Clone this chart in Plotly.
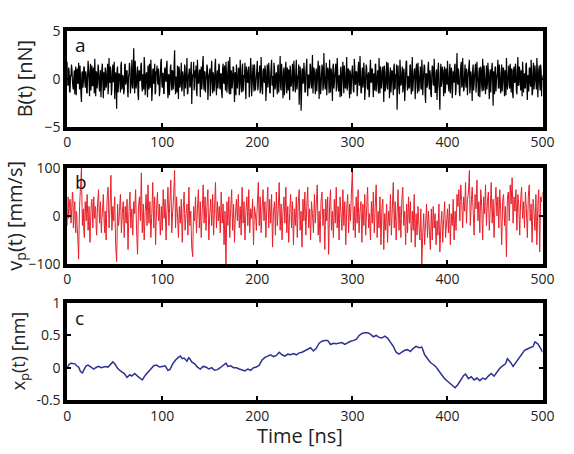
import plotly.graph_objects as go

# ---------------- data ----------------
time_ticks = [0, 100, 200, 300, 400, 500]
time_tick_text = ["0", "100", "200", "300", "400", "500"]

a_ticks = [-5, 0, 5]
a_tick_text = ["\u22125", "0", "5"]
b_ticks = [-100, 0, 100]
b_tick_text = ["\u2212100", "0", "100"]
c_ticks = [-0.5, 0, 0.5, 1]
c_tick_text = ["-0.5", "0", "0.5", "1"]

# B(t) [nN] at whole ns, t = 0..500
B_values = [
    1.8, -0.6, 0.9, -1.4, 0.3, 1.1, -0.8, 0.2, -1.6, 1.3, 0.5, -0.4, 1.7, -1.1, 0.1, -2.4, 0.8, -0.3, 1.2, -0.9,
    0.4, -1.5, 1.9, -0.2, 0.7, -1.2, 1.4, -0.7, 0.2, 2.1, -1.8, 0.6, -0.1, 1.0, -1.3, 0.9, -0.5, 1.6, -2.0, 0.3,
    1.2, -0.9, 0.5, -1.6, 2.2, -0.4, 0.8, -1.1, 1.5, -0.2, -2.1, 0.7, -3.1, 1.3, -0.6, 0.4, -1.4, 1.8, -0.8, 0.1,
    -1.2, 1.6, -0.3, 0.9, -1.9, 0.5, 1.1, -0.7, 2.0, -1.0, 3.2, -1.5, 0.6, -0.4, 1.3, -2.2, 0.8, -0.1, 1.7, -1.3,
    0.2, 2.3, -1.7, 0.5, -0.8, 1.4, -1.1, 0.3, 2.0, -2.3, 0.9, -0.5, 1.6, -1.4, 0.7, -0.2, 1.1, -1.8, 0.4, 2.1,
    -0.9, 0.6, -1.5, 1.2, -0.3, 1.9, -2.0, 0.4, -0.7, 1.5, -1.2, 0.8, -0.4, 3.0, -1.6, 0.2, 1.4, -2.1, 0.9, -0.6,
    1.7, -1.0, 0.3, -1.8, 1.2, -0.2, 2.2, -1.4, 0.6, -0.9, 1.0, -2.6, 0.5, 1.8, -0.7, 0.1, -1.3, 2.0, -0.5, 0.8,
    -1.9, 1.3, -0.4, 2.4, -1.2, 0.7, -0.2, 1.5, -2.2, 0.4, 1.1, -0.8, 1.9, -1.5, 0.3, -0.6, 2.1, -1.7, 0.9, -0.3,
    1.4, -1.1, 0.6, -2.0, 1.6, -0.5, 0.2, 1.8, -1.4, 0.8, -0.9, 2.3, -1.6, 0.5, -0.2, 1.2, -2.4, 0.7, 1.5, -1.0,
    0.3, -1.7, 2.0, -0.6, 1.1, -1.3, 0.4, 1.7, -2.1, 0.9, -0.4, 1.3, -1.0, 2.2, -1.8, 0.6, -0.3, 1.5, -1.2, 0.2,
    1.9, -0.7, 0.5, -1.5, 2.3, -1.1, 0.8, -0.2, 1.4, -2.3, 0.6, -0.9, 1.7, -1.4, 0.3, 2.0, -0.5, -1.9, 1.1, -0.8,
    0.7, -1.6, 1.5, -0.3, 2.4, -1.2, 0.4, -2.0, 1.2, -0.6, 1.8, -1.5, 0.2, 1.0, -2.2, 0.8, -0.4, 1.6, -1.1, 0.5,
    -1.4, 2.0, -0.8, 0.3, -2.7, 1.3, -3.3, 0.9, -0.5, 1.7, -1.3, 0.6, 2.1, -1.8, 0.4, -0.7, 1.4, -1.0, 2.5, -0.2,
    0.8, -1.6, 1.1, -0.4, 1.9, -2.1, 0.5, -0.9, 1.5, -1.2, 2.7, -0.6, 0.3, -1.7, 1.2, -0.1, 2.0, -1.4, 0.7, -2.3,
    1.6, -0.5, 0.9, -1.3, 2.2, -0.8, 0.4, -1.9, 1.3, -0.2, 1.8, -1.5, 0.6, -1.0, 2.3, -0.7, 1.0, -2.0, 0.5, -0.4,
    1.4, -1.2, 2.1, -0.6, 0.8, -1.8, 1.1, -0.3, 2.4, -1.4, 0.5, -0.9, 1.7, -2.2, 0.3, 1.2, -1.1, 0.7, -1.6, 2.0,
    -0.4, 1.0, -1.9, 0.6, 1.5, -1.3, 0.2, -0.8, 2.2, -1.5, 0.9, -0.3, 1.3, -2.4, 0.7, -0.6, 1.8, -1.1, 0.4, -2.0,
    1.2, -0.5, 0.8, -1.7, 1.6, -0.9, 0.3, -3.2, 1.4, -1.0, 2.0, -0.7, 0.5, -1.4, 1.1, -2.3, 0.6, 1.9, -1.2, 0.2,
    -0.8, 1.5, -1.6, 2.3, -0.4, 0.9, -2.1, 1.2, -0.2, 1.7, -1.3, 0.4, -0.9, 2.0, -1.7, 0.7, 1.3, -2.5, 0.5, -0.6,
    1.8, -1.1, 0.3, -1.9, 1.4, -0.5, 2.1, -1.4, 0.6, -2.2, 1.0, -0.7, -3.2, 1.6, -0.3, 0.9, -1.8, 1.3, -1.0, 0.4,
    1.9, -0.8, 0.5, -1.5, 1.2, -2.0, 0.8, -0.4, 1.6, -1.2, 2.7, -0.6, 0.3, -1.8, 1.4, -0.9, 2.2, -1.3, 0.6, -0.2,
    1.1, -1.7, 0.7, 2.0, -1.0, 0.4, -2.3, 1.5, -0.6, 0.9, -1.4, 1.8, -0.3, 0.6, -1.9, 1.3, -0.8, 2.1, -1.2, 0.2,
    -1.6, 1.4, -0.5, 0.8, -2.1, 1.0, -0.2, 1.7, -2.8, 0.5, 1.2, -1.3, 0.3, 2.0, -0.9, 0.6, -1.5, 1.5, -0.4, 1.1,
    -1.8, 0.7, 2.2, -1.1, 0.4, -0.7, 1.6, -1.4, 0.9, -2.0, 1.3, -0.3, 0.8, -1.6, 2.3, -0.6, 1.0, -1.2, 0.5, 1.8,
    -1.4, 0.6, -0.9, 1.7, -2.2, 0.3, 1.1, -0.5, 2.0, -1.7, 0.8, -1.1, 1.4, -0.4, 2.2, -1.9, 0.9, -0.6, 1.5, -1.8,
    0.4,
]
# B(t) [nN] at half ns, t = 0.5..499.5
B_half_values = [
    -0.7, 1.2, -1.3, 0.4, 1.5, -0.2, -1.1, 0.9, 0.2, -1.7, 1.1, -0.5, 0.3, 1.4, -1.6, 0.6, -0.9, 1.3, -0.2, 0.8,
    -1.4, 0.5, 0.9, -1.8, 1.6, 0.1, -0.7, 1.2, -1.5, 0.4, 0.8, -1.0, 1.5, -0.6, 0.2, -1.9, 1.1, -0.3, 0.7, -1.2,
    0.9, -0.4, 1.6, -0.8, -0.1, 1.3, -1.7, 0.5, -0.3, 1.8, -0.9, 0.2, 1.0, -1.4, 0.6, -0.2, 1.4, -1.1, 0.4, -1.6,
    1.5, -0.6, 0.8, -1.2, 0.3, 1.7, -1.5, 0.1, -0.8, 1.2, -0.4, 1.9, -1.0, 0.6, -1.7, 0.9, -0.2, 1.4, -0.7, 0.5,
    -1.1, 1.3, -0.5, 0.7, -1.9, 0.2, 1.6, -0.9, 0.4, -1.3, 1.1, -0.2, -1.6, 0.8, 1.4, -0.6, 0.3, -1.2, 1.8, -0.4,
    0.6, -1.5, 1.0, -0.1, 1.4, -0.8, 0.5, -1.7, 1.2, -0.3, 0.9, -1.1, 1.6, -0.6, 0.2, -1.4, 0.7, 1.3, -0.9, 0.4,
    -1.3, 0.8, -0.2, 1.5, -1.0, 0.6, -1.6, 0.3, 1.1, -0.7, 1.8, -0.4, 0.2, -1.2, 0.9, 1.4, -1.8, 0.5, -0.3, 1.0,
    0.4, -1.1, 1.7, -0.5, 0.8, -1.4, 0.2, 1.2, -0.9, 0.6, -1.8, 1.0, -0.2, 0.7, -1.3, 1.5, -0.6, 0.3, -1.0, 1.6,
    -0.8, 0.5, -1.5, 1.1, -0.3, 1.4, -1.2, 0.7, -0.4, 1.9, -1.6, 0.2, 0.9, -1.0, 1.3, -0.5, 0.6, -1.7, 1.0, -0.2,
    1.2, -0.9, 0.4, -1.4, 1.6, -0.6, 0.1, -1.1, 1.3, -0.3, 0.8, -1.9, 0.5, 1.0, -0.7, 1.5, -1.3, 0.3, -0.5, 1.1,
    -1.2, 0.7, 1.4, -0.8, 0.2, -1.6, 1.1, -0.4, 0.9, -1.0, 1.5, -0.2, 0.6, -1.5, 1.2, -0.7, 0.3, 1.7, -1.1, 0.5,
    -0.6, 1.3, -1.4, 0.4, -0.9, 1.6, -0.3, 0.8, -1.7, 1.0, -0.5, 1.2, -1.2, 0.6, 1.4, -0.8, 0.2, -1.3, 1.9, -0.4,
    0.9, -1.1, 0.3, 1.5, -0.7, 0.5, -1.8, 1.1, -0.2, 0.7, -1.4, 1.3, -0.6, 0.4, -1.0, 1.6, -0.3, 0.8, -1.5, 1.2,
    -0.5, 0.6, -1.3, 1.0, -0.1, 1.4, -1.6, 0.3, 1.2, -0.8, 0.5, -1.1, 1.7, -0.4, 0.9, -1.5, 0.2, 1.1, -0.7, 1.3,
    -1.0, 0.4, 1.6, -0.6, 0.8, -1.3, 0.1, 1.0, -1.8, 0.6, -0.3, 1.4, -0.9, 0.5, -1.2, 1.1, -0.5, 0.9, -1.6, 0.7,
    0.2, -1.4, 1.3, -0.4, 0.7, -1.0, 1.8, -0.7, 0.3, -1.5, 1.2, -0.2, 0.6, -1.1, 1.5, -0.8, 0.4, -1.9, 1.0, -0.3,
    1.1, -0.6, 0.5, -1.2, 1.6, -0.4, 0.9, -1.5, 0.2, 1.3, -1.0, 0.7, -0.5, 1.4, -1.3, 0.3, -0.8, 1.7, -0.2, 0.6,
    -1.4, 0.9, -0.3, 1.2, -1.1, 0.5, 1.5, -0.7, 0.1, -1.6, 1.0, -0.4, 1.3, -0.9, 0.6, -1.2, 1.8, -0.5, 0.3, -1.0,
    1.4, -0.8, 0.7, -1.3, 0.2, 1.1, -0.6, 1.6, -1.5, 0.4, -0.2, 1.3, -1.1, 0.8, -0.4, 1.5, -1.7, 0.6, -0.9, 1.2,
    -0.3, 0.9, -1.6, 0.5, 1.2, -0.7, 0.3, -1.4, 1.0, -0.5, 1.7, -1.2, 0.6, -0.8, 1.3, -0.2, 0.8, -1.5, 1.1, -0.6,
    0.5, -1.3, 1.6, -0.4, 0.9, -1.0, 0.2, 1.4, -1.7, 0.7, -0.3, 1.1, -1.4, 0.4, 1.8, -0.6, 0.3, -1.1, 1.5, -0.9,
    0.6, -0.2, 1.3, -1.5, 0.8, -0.7, 1.0, -1.2, 0.4, 1.6, -0.5, 0.2, -1.8, 1.2, -0.4, 0.9, -1.3, 0.5, 1.4, -0.8,
    0.3, -1.1, 1.7, -0.6, 0.5, -1.4, 1.1, -0.3, 0.8, -1.6, 1.3, -0.2, 0.7, -1.0, 1.5, -0.9, 0.4, -1.3, 1.2, -0.5,
    0.9, -1.7, 0.6, -0.2, 1.4, -1.0, 0.3, 1.1, -1.5, 0.8, -0.4, 1.6, -1.2, 0.5, -0.7, 1.3, -0.3, 0.9, -1.8, 0.7,
    0.2, -1.0, 1.5, -0.6, 0.4, -1.3, 1.2, -0.8, 0.6, -1.4, 1.7, -0.3, 0.5, -1.1, 1.0, -0.5, 1.4, -1.2, 0.8, -0.7,
]

# v_p(t) [mm/s] at whole ns, t = 0..500
v_values = [
    -20, 40, 10, 35, -15, 25, 45, -10, 30, -35, 5, -40, -90, 20, 60, 100, -20, 15, -45, 30,
    -10, 45, -30, 20, -55, 10, 35, -25, 40, -5, 15, -40, 25, 55, -15, 30, -35, 5, 45, -20,
    10, -50, 35, 60, -25, 15, 85, -30, 20, -10, 40, -60, -95, 25, -20, 10, 45, -35, 5, 30,
    -45, 20, -15, 35, -70, 10, 50, -25, 15, -40, 30, 5, 55, -30, -80, 20, 40, -10, 90, -35,
    25, -50, 10, 45, -20, 65, -15, 30, -45, 5, 70, -25, 40, -60, 15, 50, -10, 25, -40, 20,
    -30, 55, -5, 35, -50, 15, 60, -20, 30, 75, -35, 10, 45, 95, -25, 40, 5, -45, 20, -15,
    35, -55, 15, 50, -30, 5, 25, -40, 60, -20, 10, -65, -85, 20, -10, 40, -35, 15, 55, -25,
    30, -45, 10, 65, -15, 40, -30, 20, 55, -50, 5, 35, -20, 45, -40, 15, 70, -25, 30, -10,
    20, -35, 50, -15, 25, -60, 10, -100, 30, -20, 40, -45, 15, 55, -30, 25, -55, 5, 35, -10,
    45, -25, 20, -40, 60, -15, 30, -50, 10, 40, -20, 55, -35, 15, -5, 35, -60, 20, 5, -30,
    25, 70, -20, 40, -35, 15, 55, -10, 30, -45, 20, 60, -25, 35, -15, 45, -65, 10, 30, -40,
    50, -20, 15, 70, -30, 25, -50, 10, 40, -15, 60, -35, 20, -55, 5, 45, -25, 30, -60, 15,
    -20, 40, -45, 25, 55, -30, 10, -65, 35, -10, 50, -40, 20, 60, -25, 15, -50, 30, 5, -35,
    45, -15, 25, 65, -40, 10, -55, 30, 50, -20, 15, -70, 35, -10, 40, -80, 20, 55, -30, 10,
    -45, 35, -15, 60, -25, 20, -50, 40, 5, -30, 55, -20, 30, -60, 15, 45, -35, 25, -10, 50,
    100, -30, 20, -45, 40, -15, 55, -35, 10, 30, -55, 25, -20, 45, -40, 15, 60, -25, 5, -50,
    30, -15, 50, -35, 20, 65, -45, 10, -25, 40, -60, 15, 35, -70, 5, -30, 25, -55, 10, -20,
    45, -40, 15, 70, -25, 30, -50, 5, 55, -30, 20, -45, 35, 60, -20, 10, -60, 25, -35, 40,
    -15, 30, -55, 10, -30, 45, -65, 5, -40, 20, -20, -50, 15, -100, -35, 5, -60, -15, 25, -45,
    10, -30, -70, 15, -50, 20, -25, 5, -60, -10, -40, 25, -75, -20, 10, -55, -5, 30, -45, -15,
    15, -35, 25, -60, 5, -20, 35, -50, 10, -30, 45, 20, 55, -10, 65, 30, -25, 40, 10, 70,
    -15, 35, 50, 95, -20, 25, 60, 10, -40, 45, 15, 75, -10, 30, -35, 55, 20, -50, 40, 5,
    65, -20, 30, 50, -30, 15, 70, -15, 35, -45, 25, 60, 0, 40, -25, 55, 10, -60, 30, 45,
    -20, 20, -85, 35, 50, -10, 65, 25, 80, -15, 40, 10, 55, -30, 45, 20, -40, 35, 60, -5,
    30, -25, 50, 15, -45, 40, 65, -10, 25, -55, 35, 10, -30, 45, -60, 20, 55, -75, 40, 30,
    50,
]
# v_p(t) [mm/s] at half ns, t = 0.5..499.5
v_half_values = [
    15, -5, 30, 20, 0, 50, -25, 20, -15, 10, -20, -60, -30, 40, 80, 35, 5, -30, 0, 10,
    25, 5, -10, -30, -20, 30, 10, 15, 5, 20, -25, -5, 40, 15, 10, -10, -5, 25, 10, -35,
    -25, 5, 50, 20, -5, 45, 25, -10, 0, 20, -15, -80, -45, -5, -10, 30, 10, -15, 20, -10,
    -15, 0, 10, -20, -25, 30, 10, -5, -15, 0, 15, 35, 10, -55, -30, 30, 15, 45, 20, -5,
    -15, -20, 25, 10, 25, 20, 5, -5, -20, 35, 20, 10, -15, -20, 35, 15, 5, -15, -10, -5,
    10, 20, 15, -15, -10, 35, 15, 5, 50, 25, -10, 25, 70, 30, 5, 20, -20, -10, -5, 10,
    -10, -20, 30, 5, -15, 15, -5, 10, 20, -5, -30, -75, -30, -5, 15, 0, -10, 35, 10, 0,
    -10, -15, 35, 25, 10, 5, -5, 40, 0, -20, 20, 5, 10, 0, -10, 45, 20, 0, 10, 5,
    -5, 10, 20, 5, -20, -25, -45, -40, 5, 10, -5, -10, 35, 10, -5, -15, -20, 20, 10, 15,
    10, -5, -10, 15, 20, 5, -15, -15, 25, 10, 15, 10, -10, 5, 15, -20, -20, 10, -10, 0,
    45, 25, 10, 0, -10, 35, 20, 10, -10, -10, 40, 15, 5, 10, 10, -15, -25, 20, 0, 5,
    15, -5, 45, 20, -5, -15, -20, 25, 10, 20, 10, -5, -20, -25, 25, 10, 5, -15, -20, -5,
    10, -5, -10, 40, 10, -10, -30, -15, 10, 20, 5, -10, 40, 15, -5, -20, -10, 15, -15, 5,
    15, 5, 45, 10, -15, -25, -10, 40, 15, -5, -30, -20, 10, 15, -25, -35, 40, 10, -10, -20,
    -5, 10, 25, 15, 0, -15, -5, 20, -15, 10, 15, 5, -15, -25, 30, 5, -5, 5, 20, 75,
    30, -5, -15, 0, 10, 20, 5, -10, 20, -15, -10, 0, 10, -5, -10, 40, 15, -10, -25, -10,
    5, 20, 5, -10, 45, 10, -15, -10, 10, -10, -25, 25, -20, -30, -15, 0, -15, -20, -5, 15,
    0, -10, 45, 20, 5, -10, -25, 30, 10, -5, -15, -5, 50, 15, -5, -25, -20, 5, 0, 10,
    10, -15, -20, -10, 10, -15, -25, -20, -10, 0, -40, -15, -45, -70, -15, -30, -35, 5, -10, -15,
    -10, -50, -25, -20, -10, -5, -10, -30, -40, -25, -5, -30, -50, -5, -25, -30, 10, -5, -30, 0,
    -10, -5, -20, -25, -10, 5, -10, -15, -10, 5, 30, 40, 20, 30, 45, 5, 10, 25, 40, 25,
    10, 40, 70, 35, 0, 45, 35, -15, 5, 30, 45, 30, 10, 0, 10, 40, -15, -5, 20, 35,
    20, 5, 40, 10, -5, 45, 25, 10, -5, -10, 45, 30, 20, 5, 15, 35, -25, -15, 40, 10,
    0, -35, -25, 45, 20, 25, 45, 55, 35, 10, 25, 35, 10, 5, 35, -10, 0, 50, 25, 10,
    5, 15, 30, -15, -5, 55, 25, 5, -20, -10, 25, -10, 5, -10, -20, 40, -15, -20, 35, 40,
]

# x_p(t) [nm]
x_time = [
    0, 2, 4, 6, 8, 10, 12, 14, 16, 18, 20, 22, 25, 28, 30, 33, 36, 40, 43, 45, 48, 50,
    53, 56, 60, 63, 66, 68, 71, 74, 77, 79, 82, 85, 88, 91, 94, 97, 100, 103, 106, 108,
    111, 114, 117, 119, 121, 123, 126, 128, 131, 134, 137, 140, 143, 146, 149, 152, 155,
    158, 161, 164, 167, 169, 172, 175, 178, 181, 184, 187, 190, 193, 196, 199, 202, 205,
    208, 211, 214, 217, 220, 223, 226, 229, 232, 235, 238, 241, 244, 247, 250, 253, 256,
    259, 262, 265, 268, 271, 274, 277, 280, 283, 286, 289, 292, 295, 298, 301, 304, 307,
    310, 313, 316, 319, 322, 325, 328, 331, 334, 337, 340, 343, 346, 349, 352, 355, 358,
    361, 364, 367, 370, 373, 376, 379, 382, 385, 388, 391, 394, 397, 400, 403, 406, 408,
    411, 414, 417, 419, 422, 425, 428, 431, 434, 437, 440, 443, 446, 449, 452, 455, 458,
    461, 463, 466, 469, 472, 475, 478, 481, 484, 487, 490, 492, 495, 498, 500,
]
x_values = [
    0.00, 0.05, 0.07, 0.06, 0.06, 0.03, 0.01, -0.06, -0.08, -0.02, 0.03, 0.04, 0.01, -0.02, 0.00, 0.02, 0.00, 0.02, 0.01, 0.04, 0.09, 0.06,
    -0.01, -0.05, -0.09, -0.15, -0.11, -0.13, -0.09, -0.13, -0.16, -0.19, -0.12, -0.07, -0.02, 0.03, 0.04, 0.01, 0.02, 0.03, -0.04, -0.03,
    0.06, 0.12, 0.16, 0.18, 0.14, 0.15, 0.10, 0.16, 0.09, 0.06, 0.01, -0.02, 0.02, 0.01, -0.02, 0.00, -0.04,
    -0.03, 0.00, 0.03, 0.07, 0.02, 0.03, 0.00, 0.00, -0.02, -0.04, -0.05, -0.02, -0.04, 0.00, 0.01, 0.04, 0.12,
    0.16, 0.18, 0.20, 0.17, 0.19, 0.24, 0.20, 0.18, 0.21, 0.20, 0.22, 0.20, 0.23, 0.24, 0.26, 0.28, 0.31,
    0.26, 0.30, 0.38, 0.41, 0.42, 0.42, 0.36, 0.38, 0.37, 0.38, 0.39, 0.36, 0.39, 0.41, 0.42, 0.44, 0.50,
    0.53, 0.54, 0.54, 0.52, 0.48, 0.50, 0.47, 0.46, 0.49, 0.46, 0.40, 0.33, 0.24, 0.21, 0.24, 0.27, 0.28,
    0.25, 0.30, 0.33, 0.31, 0.32, 0.20, 0.13, 0.08, 0.05, 0.01, -0.05, -0.12, -0.17, -0.21, -0.25, -0.29, -0.31,
    -0.26, -0.19, -0.12, -0.10, -0.17, -0.14, -0.19, -0.16, -0.20, -0.16, -0.18, -0.13, -0.09, -0.13, -0.06, -0.01, 0.03,
    0.06, 0.14, 0.09, 0.02, 0.08, 0.15, 0.21, 0.27, 0.29, 0.31, 0.33, 0.40, 0.37, 0.30, 0.24,
]


def merge_half(whole, half):
    """Interleave whole-ns and half-ns samples into one time series."""
    t, y = [], []
    for i, w in enumerate(whole):
        t.append(float(i))
        y.append(w)
        if i < len(half):
            t.append(i + 0.5)
            y.append(half[i])
    return t, y


B_time, B_series = merge_half(B_values, B_half_values)
v_time, v_series = merge_half(v_values, v_half_values)

# ---------------- figure ----------------
W, H = 574, 454
FONT = "Open Sans"
x_dom = [65 / W, 554 / W]
panels = [  # (top px, bottom px)
    (22, 122),
    (165, 265),
    (306, 407),
]
y_doms = [[1 - b / H, 1 - t / H] for t, b in panels]

fig = go.Figure()
fig.add_trace(go.Scatter(x=B_time, y=B_series, mode="lines",
                         line=dict(color="#000000", width=1.2, simplify=False),
                         xaxis="x", yaxis="y", showlegend=False))
fig.add_trace(go.Scatter(x=v_time, y=v_series, mode="lines",
                         line=dict(color="#E8202A", width=1.0, simplify=False),
                         xaxis="x2", yaxis="y2", showlegend=False))
fig.add_trace(go.Scatter(x=x_time, y=x_values, mode="lines",
                         line=dict(color="#2E3192", width=1.5),
                         xaxis="x3", yaxis="y3", showlegend=False))

axis_common = dict(
    showline=True, linewidth=3.5, linecolor="#000000", mirror="allticks",
    ticks="inside", ticklen=4, tickwidth=2, tickcolor="#000000",
    showgrid=False, zeroline=False,
    tickfont=dict(family=FONT, size=14, color="#222222"),
)

y_specs = [
    ([-5, 5], a_ticks, a_tick_text),
    ([-100, 100], b_ticks, b_tick_text),
    ([-0.5, 1], c_ticks, c_tick_text),
]
layout = dict(
    width=W, height=H,
    margin=dict(l=0, r=0, t=0, b=0),
    paper_bgcolor="white", plot_bgcolor="white",
    font=dict(family=FONT, color="#222222"),
)
for i in range(3):
    sfx = "" if i == 0 else str(i + 1)
    layout["xaxis" + sfx] = dict(
        axis_common, domain=x_dom, range=[0, 500],
        tickvals=time_ticks, ticktext=time_tick_text,
        anchor="y" + sfx,
    )
    rng, tv, tt = y_specs[i]
    layout["yaxis" + sfx] = dict(
        axis_common, domain=y_doms[i], range=rng,
        tickvals=tv, ticktext=tt,
        anchor="x" + sfx,
    )
fig.update_layout(**layout)

# panel letters
for letter, (t, b) in zip(["a", "b", "c"], panels):
    fig.add_annotation(text=letter, xref="paper", yref="paper",
                       x=71 / W, y=1 - (t + 15) / H, xanchor="left", yanchor="middle",
                       showarrow=False, font=dict(family=FONT, size=19, color="#111111"))

# y-axis titles
y_titles = ["B(t) [nN]", "v<sub>p</sub>(t) [mm/s]", "x<sub>p</sub>(t) [nm]"]
y_title_x = [22, 11, 16]
y_title_size = [20, 20, 18]
for txt, xp, fs, (t, b) in zip(y_titles, y_title_x, y_title_size, panels):
    fig.add_annotation(text=txt, xref="paper", yref="paper",
                       x=xp / W, y=1 - (t + b) / 2 / H, textangle=-90,
                       xanchor="center", yanchor="middle", showarrow=False,
                       font=dict(family=FONT, size=fs, color="#222222"))

# x-axis title
fig.add_annotation(text="Time [ns]", xref="paper", yref="paper",
                   x=305 / W, y=1 - 444 / H, xanchor="center", yanchor="middle",
                   showarrow=False, font=dict(family=FONT, size=20, color="#222222"))

fig.write_html("out.html")
